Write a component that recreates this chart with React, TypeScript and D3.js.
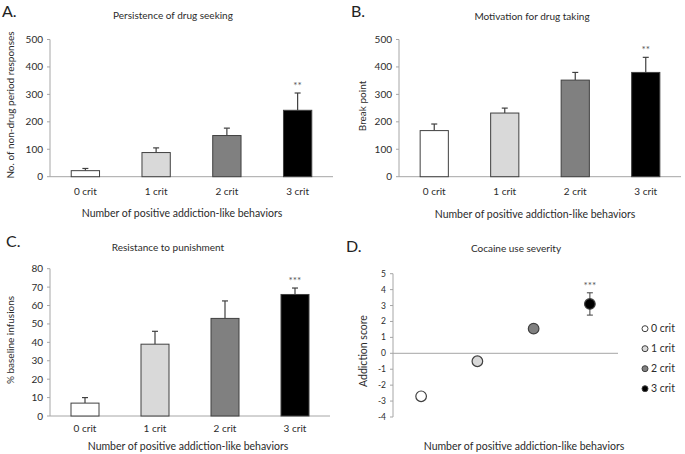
import React from "react";
import * as d3 from "d3";

const categories = ["0 crit", "1 crit", "2 crit", "3 crit"];
const fills = ["#ffffff", "#d9d9d9", "#808080", "#000000"];

const persistenceMean = [22, 88, 150, 242];
const persistenceErr = [8, 17, 27, 63];
const motivationMean = [168, 232, 352, 380];
const motivationErr = [24, 18, 28, 55];
const punishmentMean = [7, 39, 53, 66];
const punishmentErr = [3, 7, 9.5, 3.5];
const severityMean = [-2.7, -0.5, 1.55, 3.1];
const severityErr = [0.15, 0.1, 0.25, 0.7];

const ticks500 = [0, 100, 200, 300, 400, 500];
const ticks80 = [0, 10, 20, 30, 40, 50, 60, 70, 80];
const ticksScore = [-4, -3, -2, -1, 0, 1, 2, 3, 4, 5];

const FONT = "Lato, 'Open Sans', sans-serif";
const AXIS = "#a6a6a6";
const TEXT = "#2b2b2b";

type BarProps = {
  label: string; labelX: number; labelY: number;
  title: string; titleX: number; titleY: number;
  yTitle: string; yTitleX: number; yTitleY: number;
  xTitleX: number; xTitleY: number;
  x0: number; x1: number; yTop: number; yBottom: number;
  domain: [number, number]; ticks: number[];
  means: number[]; errs: number[]; stars: string; tickLabelY: number;
};

function BarPanel(p: BarProps) {
  const x = d3.scalePoint<string>().domain(categories).range([p.x0, p.x1]).padding(0.5);
  const y = d3.scaleLinear().domain(p.domain).range([p.yBottom, p.yTop]);
  const bw = x.step() * 0.4;
  return (
    <g>
      <text x={p.labelX} y={p.labelY} fontSize={16} fontFamily={FONT} fill="#222">{p.label}</text>
      <text x={p.titleX} y={p.titleY} fontSize={10} fontFamily={FONT} fill={TEXT} textAnchor="middle">{p.title}</text>
      <text transform={`translate(${p.yTitleX},${p.yTitleY}) rotate(-90)`} dy="0.35em" fontSize={10} fontFamily={FONT} fill={TEXT} textAnchor="middle">{p.yTitle}</text>
      <text x={p.xTitleX} y={p.xTitleY} fontSize={10.5} fontFamily={FONT} fill={TEXT} textAnchor="middle">Number of positive addiction-like behaviors</text>
      <line x1={p.x0} x2={p.x0} y1={p.yTop} y2={p.yBottom} stroke={AXIS} />
      <line x1={p.x0} x2={p.x1} y1={p.yBottom} y2={p.yBottom} stroke={AXIS} />
      {p.ticks.map((t) => (
        <g key={t}>
          <line x1={p.x0 - 3} x2={p.x0} y1={y(t)} y2={y(t)} stroke={AXIS} />
          <text x={p.x0 - 7} y={y(t)} dy="0.35em" fontSize={10} fontFamily={FONT} fill={TEXT} textAnchor="end">{t}</text>
        </g>
      ))}
      {categories.map((c, i) => {
        const cx = x(c)!;
        const top = y(p.means[i]);
        const et = y(p.means[i] + p.errs[i]);
        return (
          <g key={c}>
            <line x1={cx} x2={cx} y1={top} y2={et} stroke="#404040" strokeWidth={1.2} />
            <line x1={cx - 3} x2={cx + 3} y1={et} y2={et} stroke="#404040" strokeWidth={1.2} />
            <rect x={cx - bw / 2} y={top} width={bw} height={p.yBottom - top} fill={fills[i]} stroke="#404040" strokeWidth={1} />
            <text x={cx} y={p.tickLabelY} fontSize={10} fontFamily={FONT} fill={TEXT} textAnchor="middle">{c}</text>
            {i === 3 && (
              <text x={cx} y={et - 4} fontSize={10} fontFamily={FONT} fill="#555" textAnchor="middle">{p.stars}</text>
            )}
          </g>
        );
      })}
    </g>
  );
}

function ScorePanel() {
  const x0 = 393, x1 = 618, yTop = 273.7, yBottom = 417;
  const x = d3.scalePoint<string>().domain(categories).range([x0, x1]).padding(0.5);
  const y = d3.scaleLinear().domain([-4, 5]).range([yBottom, yTop]);
  const legendY = d3.scalePoint<string>().domain(categories).range([328.7, 388.7]);
  return (
    <g>
      <text x={346} y={252} fontSize={16} fontFamily={FONT} fill="#222">D.</text>
      <text x={516} y={252} fontSize={10} fontFamily={FONT} fill={TEXT} textAnchor="middle">Cocaine use severity</text>
      <text transform="translate(363,351) rotate(-90)" dy="0.35em" fontSize={10.5} fontFamily={FONT} fill={TEXT} textAnchor="middle">Addiction score</text>
      <text x={524} y={450} fontSize={10.5} fontFamily={FONT} fill={TEXT} textAnchor="middle">Number of positive addiction-like behaviors</text>
      <line x1={x0} x2={x0} y1={yTop} y2={yBottom} stroke={AXIS} />
      <line x1={x0} x2={x1} y1={y(0)} y2={y(0)} stroke={AXIS} />
      {ticksScore.map((t) => (
        <g key={t}>
          <line x1={x0 - 3} x2={x0} y1={y(t)} y2={y(t)} stroke={AXIS} />
          <text x={x0 - 7} y={y(t)} dy="0.35em" fontSize={8.5} fontFamily={FONT} fill={TEXT} textAnchor="end">{t}</text>
        </g>
      ))}
      {categories.map((c, i) => {
        const cx = x(c)!;
        const cy = y(severityMean[i]);
        const ehi = y(severityMean[i] + severityErr[i]);
        const elo = y(severityMean[i] - severityErr[i]);
        return (
          <g key={c}>
            <line x1={cx} x2={cx} y1={ehi} y2={elo} stroke="#404040" />
            <line x1={cx - 3} x2={cx + 3} y1={ehi} y2={ehi} stroke="#404040" />
            <line x1={cx - 3} x2={cx + 3} y1={elo} y2={elo} stroke="#404040" />
            <circle cx={cx} cy={cy} r={5.3} fill={fills[i]} stroke="#404040" strokeWidth={1.2} />
            {i === 3 && (
              <text x={cx} y={ehi - 4} fontSize={10} fontFamily={FONT} fill="#555" textAnchor="middle">***</text>
            )}
          </g>
        );
      })}
      {categories.map((c, i) => (
        <g key={"lg" + c}>
          <circle cx={645} cy={legendY(c)!} r={3} fill={fills[i]} stroke="#404040" />
          <text x={651} y={legendY(c)!} dy="0.35em" fontSize={10.5} fontFamily={FONT} fill={TEXT}>{c}</text>
        </g>
      ))}
    </g>
  );
}

export default function App() {
  return (
    <svg width={685} height={454} style={{ position: "absolute", left: 0, top: 0, background: "#fff" }}>
      <rect width={685} height={454} fill="#fff" />
      <BarPanel label="A." labelX={2} labelY={17} title="Persistence of drug  seeking" titleX={173} titleY={19}
        yTitle="No. of non-drug period responses" yTitleX={10} yTitleY={105} xTitleX={182} xTitleY={217}
        x0={50} x1={333} yTop={39.5} yBottom={176.7} domain={[0, 500]} ticks={ticks500}
        means={persistenceMean} errs={persistenceErr} stars="**" tickLabelY={195} />
      <BarPanel label="B." labelX={351} labelY={17} title="Motivation for drug taking" titleX={532} titleY={20}
        yTitle="Break point" yTitleX={362} yTitleY={106} xTitleX={535} xTitleY={218}
        x0={399} x1={681} yTop={39.5} yBottom={176.7} domain={[0, 500]} ticks={ticks500}
        means={motivationMean} errs={motivationErr} stars="**" tickLabelY={195} />
      <BarPanel label="C." labelX={6} labelY={247} title="Resistance to punishment" titleX={168} titleY={251}
        yTitle="% baseline infusions" yTitleX={10} yTitleY={340} xTitleX={188} xTitleY={450}
        x0={50} x1={330} yTop={268.7} yBottom={416} domain={[0, 80]} ticks={ticks80}
        means={punishmentMean} errs={punishmentErr} stars="***" tickLabelY={432} />
      <ScorePanel />
    </svg>
  );
}
